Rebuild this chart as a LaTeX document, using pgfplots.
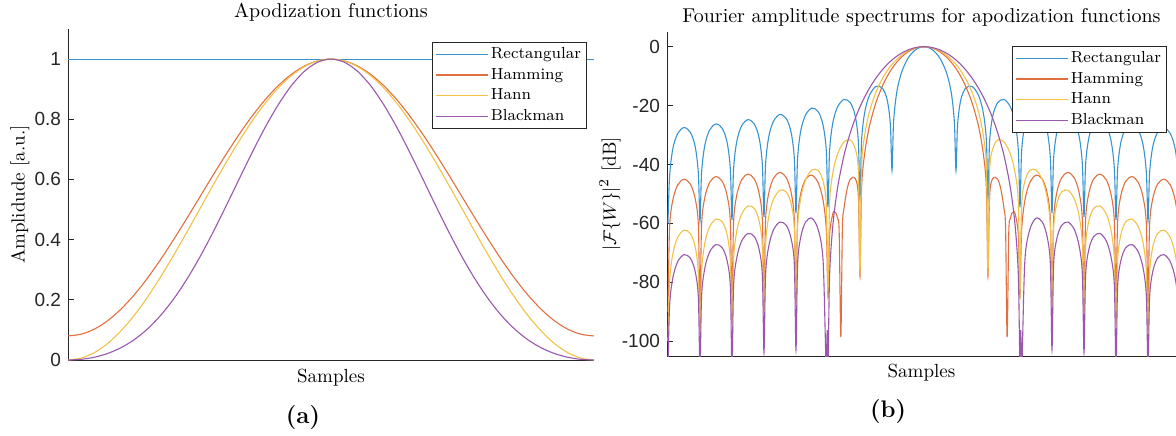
\documentclass[border=0pt]{standalone}
\usepackage{fontspec}
\usepackage{pgfplots}
\pgfplotsset{compat=1.18}
\newfontfamily\ticksf{Liberation Sans}
\definecolor{c1}{rgb}{0.22,0.58,0.82}
\definecolor{c2}{rgb}{0.88,0.44,0.25}
\definecolor{c3}{rgb}{0.95,0.76,0.28}
\definecolor{c4}{rgb}{0.60,0.34,0.68}
\definecolor{axc}{rgb}{0.15,0.15,0.15}
\pgfplotsset{
  base/.style={
    scale only axis,
    axis lines*=left,
    axis line style={-, axc, line width=0.5pt},
    tick style={axc, line width=0.5pt},
    tick align=inside,
    major tick length=3pt,
    xtick=\empty,
    no markers,
    every axis title shift=0pt,
    ticklabel style={font=\ticksf\fontsize{9.5}{11}\selectfont, text=axc},
    label style={font=\fontsize{9.5}{11}\selectfont},
    title style={font=\fontsize{10}{12}\selectfont},
    every axis plot/.append style={line width=0.55pt},
    legend cell align=left,
    legend style={font=\fontsize{8}{9.6}\selectfont, draw=axc, line width=0.5pt, fill=white,
      inner xsep=1.5pt, inner ysep=0.8pt, row sep=0pt,
      nodes={inner xsep=1.3pt, inner ysep=1.25pt, text height=6pt, text depth=1.8pt}},
    legend image code/.code={\draw[#1,line width=0.55pt] (0pt,0pt) -- (26pt,0pt);},
  }
}
\begin{document}
\begin{tikzpicture}
\path[use as bounding box] (0,0) rectangle (588pt,217.5pt);
% ---------------- (a) ----------------
\begin{axis}[base,
  at={(34pt,37.5pt)}, anchor=south west,
  width=263pt, height=165.5pt,
  xmin=0, xmax=40, ymin=0, ymax=1.1,
  ytick={0,0.2,0.4,0.6,0.8,1}, yticklabels={0,0.2,0.4,0.6,0.8,1},
  title={Apodization functions},
  title style={at={(axis description cs:0.5,1)}, anchor=center, yshift=8.5pt},
  xlabel={Samples},
  xlabel style={at={(axis description cs:0.5,0)}, anchor=center, yshift=-9pt},
  ylabel={Amplidude [a.u.]},
  ylabel style={at={(axis description cs:-0.0913,0.5)}, anchor=center},
  legend style={at={(axis description cs:0.9867,0.9607)}, anchor=north east},
]
\addplot[c1] coordinates {(0,1) (40,1)};
\addlegendentry{Rectangular}
\addplot[c2, smooth] coordinates {
(0,0.08) (1,0.0857) (2,0.1025) (3,0.1301) (4,0.1679) (5,0.2147) (6,0.2696) (7,0.3312) (8,0.3979) (9,0.4680)
(10,0.54) (11,0.6120) (12,0.6822) (13,0.7488) (14,0.8104) (15,0.8653) (16,0.9122) (17,0.9499) (18,0.9775) (19,0.9943)
(20,1) (21,0.9943) (22,0.9775) (23,0.9499) (24,0.9122) (25,0.8653) (26,0.8104) (27,0.7488) (28,0.6822) (29,0.6120)
(30,0.54) (31,0.4680) (32,0.3979) (33,0.3312) (34,0.2696) (35,0.2147) (36,0.1679) (37,0.1301) (38,0.1025) (39,0.0857) (40,0.08)};
\addlegendentry{Hamming}
\addplot[c3, smooth] coordinates {
(0,0) (1,0.0062) (2,0.0245) (3,0.0545) (4,0.0955) (5,0.1464) (6,0.2061) (7,0.2730) (8,0.3455) (9,0.4218)
(10,0.5) (11,0.5782) (12,0.6545) (13,0.7270) (14,0.7939) (15,0.8536) (16,0.9045) (17,0.9455) (18,0.9755) (19,0.9938)
(20,1) (21,0.9938) (22,0.9755) (23,0.9455) (24,0.9045) (25,0.8536) (26,0.7939) (27,0.7270) (28,0.6545) (29,0.5782)
(30,0.5) (31,0.4218) (32,0.3455) (33,0.2730) (34,0.2061) (35,0.1464) (36,0.0955) (37,0.0545) (38,0.0245) (39,0.0062) (40,0)};
\addlegendentry{Hann}
\addplot[c4, smooth] coordinates {
(0,0) (1,0.0022) (2,0.0092) (3,0.0215) (4,0.0402) (5,0.0664) (6,0.1014) (7,0.1460) (8,0.2008) (9,0.2657)
(10,0.34) (11,0.4221) (12,0.5098) (13,0.6000) (14,0.6892) (15,0.7736) (16,0.8492) (17,0.9125) (18,0.9603) (19,0.9899)
(20,1) (21,0.9899) (22,0.9603) (23,0.9125) (24,0.8492) (25,0.7736) (26,0.6892) (27,0.6000) (28,0.5098) (29,0.4221)
(30,0.34) (31,0.2657) (32,0.2008) (33,0.1460) (34,0.1014) (35,0.0664) (36,0.0402) (37,0.0215) (38,0.0092) (39,0.0022) (40,0)};
\addlegendentry{Blackman}
\end{axis}
% ---------------- (b) ----------------
\begin{axis}[base,
  at={(333.5pt,39.5pt)}, anchor=south west,
  width=254.5pt, height=162pt,
  xmin=-8.03, xmax=7.875, ymin=-105, ymax=5,
  ytick={-100,-80,-60,-40,-20,0}, yticklabels={-100,-80,-60,-40,-20,0},
  title={Fourier amplitude spectrums for apodization functions},
  title style={at={(axis description cs:0.5,1)}, anchor=center, yshift=7.5pt},
  xlabel={Samples},
  xlabel style={at={(axis description cs:0.5,0)}, anchor=center, yshift=-8.5pt},
  ylabel={$|\mathcal{F}\{W\}|^2$ [dB]},
  ylabel style={at={(axis description cs:-0.112,0.5)}, anchor=center},
  legend style={at={(axis description cs:0.9823,0.9568)}, anchor=north east},
]
\addplot[c1, smooth, tension=0.5] coordinates {
(-8,-60) (-7.95,-44.06) (-7.85,-34.70) (-7.7,-29.51) (-7.5,-27.44) (-7.3,-29.05) (-7.15,-33.89) (-7.05,-43.02)
(-7,-59.3) (-6.95,-42.89) (-6.85,-33.52) (-6.7,-28.30) (-6.5,-26.20) (-6.3,-27.77) (-6.15,-32.58) (-6.05,-41.69)
(-6,-58.8) (-5.95,-41.54) (-5.85,-32.15) (-5.7,-26.90) (-5.5,-24.75) (-5.3,-26.27) (-5.15,-31.04) (-5.05,-40.12)
(-5,-57.8) (-4.95,-39.95) (-4.85,-30.52) (-4.7,-25.23) (-4.5,-23.01) (-4.3,-24.45) (-4.15,-29.16) (-4.05,-38.20)
(-4,-56.5) (-3.95,-37.99) (-3.85,-28.51) (-3.7,-23.15) (-3.5,-20.82) (-3.3,-22.15) (-3.15,-26.77) (-3.05,-35.74)
(-3,-54.5) (-2.95,-35.45) (-2.85,-25.90) (-2.7,-20.41) (-2.5,-17.90) (-2.3,-19.02) (-2.15,-23.45) (-2.05,-32.29)
(-2,-51.5) (-1.95,-31.85) (-1.85,-22.15) (-1.7,-16.39) (-1.5,-13.47) (-1.3,-14.06) (-1.15,-18.02) (-1.05,-26.48)
(-1,-42) (-0.95,-25.61) (-0.85,-15.39) (-0.7,-8.69) (-0.5,-3.92) (-0.3,-1.33) (-0.15,-0.32) (-0.05,-0.04)
(0,0)
(0.05,-0.04) (0.15,-0.32) (0.3,-1.33) (0.5,-3.92) (0.7,-8.69) (0.85,-15.39) (0.95,-25.61) (1,-42)
(1.05,-26.48) (1.15,-18.02) (1.3,-14.06) (1.5,-13.47) (1.7,-16.39) (1.85,-22.15) (1.95,-31.85) (2,-51.5)
(2.05,-32.29) (2.15,-23.45) (2.3,-19.02) (2.5,-17.90) (2.7,-20.41) (2.85,-25.90) (2.95,-35.45) (3,-54.5)
(3.05,-35.74) (3.15,-26.77) (3.3,-22.15) (3.5,-20.82) (3.7,-23.15) (3.85,-28.51) (3.95,-37.99) (4,-56.5)
(4.05,-38.20) (4.15,-29.16) (4.3,-24.45) (4.5,-23.01) (4.7,-25.23) (4.85,-30.52) (4.95,-39.95) (5,-57.8)
(5.05,-40.12) (5.15,-31.04) (5.3,-26.27) (5.5,-24.75) (5.7,-26.90) (5.85,-32.15) (5.95,-41.54) (6,-58.8)
(6.05,-41.69) (6.15,-32.58) (6.3,-27.77) (6.5,-26.20) (6.7,-28.30) (6.85,-33.52) (6.95,-42.89) (7,-59.3)
(7.05,-43.02) (7.15,-33.89) (7.3,-29.05) (7.5,-27.44) (7.7,-29.51) (7.85,-34.70) (7.95,-44.06) (8,-60)};
\addlegendentry{Rectangular}
\addplot[c2, smooth, tension=0.5] coordinates {
(-8,-90) (-7.95,-61.49) (-7.85,-52.15) (-7.7,-46.99) (-7.5,-44.98) (-7.3,-46.65) (-7.15,-51.53) (-7.05,-60.70)
(-7,-89) (-6.95,-60.60) (-6.85,-51.27) (-6.7,-46.11) (-6.5,-44.09) (-6.3,-45.75) (-6.15,-50.64) (-6.05,-59.81)
(-6,-88) (-5.95,-59.71) (-5.85,-50.39) (-5.7,-45.23) (-5.5,-43.24) (-5.3,-44.93) (-5.15,-49.85) (-5.05,-59.03)
(-5,-87) (-4.95,-58.97) (-4.85,-49.66) (-4.7,-44.58) (-4.5,-42.68) (-4.3,-44.50) (-4.15,-49.55) (-4.05,-58.84)
(-4,-86) (-3.95,-58.93) (-3.85,-49.77) (-3.7,-44.98) (-3.5,-43.62) (-3.3,-46.30) (-3.15,-52.34) (-3.05,-62.57)
(-3,-85) (-2.95,-63.95) (-2.85,-56.79) (-2.8,-56.05) (-2.75,-56.47) (-2.7,-58.32) (-2.65,-62.89) (-2.598,-98.6)
(-2.55,-61.71) (-2.5,-54.91) (-2.4,-48.21) (-2.3,-44.97) (-2.15,-44.66) (-2.05,-50.86)
(-2,-78) (-1.95,-48.00) (-1.85,-35.98) (-1.7,-26.77) (-1.5,-18.93) (-1.3,-13.34) (-1.15,-10.08) (-1.05,-8.24)
(-1,-7.41) (-0.95,-6.64) (-0.85,-5.24) (-0.7,-3.49) (-0.5,-1.75) (-0.3,-0.62) (-0.15,-0.16) (-0.05,-0.02)
(0,0)
(0.05,-0.02) (0.15,-0.16) (0.3,-0.62) (0.5,-1.75) (0.7,-3.49) (0.85,-5.24) (0.95,-6.64) (1,-7.41)
(1.05,-8.24) (1.15,-10.08) (1.3,-13.34) (1.5,-18.93) (1.7,-26.77) (1.85,-35.98) (1.95,-48.00) (2,-78)
(2.05,-50.86) (2.15,-44.66) (2.3,-44.97) (2.4,-48.21) (2.5,-54.91) (2.55,-61.71) (2.598,-98.6)
(2.65,-62.89) (2.7,-58.32) (2.75,-56.47) (2.8,-56.05) (2.85,-56.79) (2.95,-63.95) (3,-85)
(3.05,-62.57) (3.15,-52.34) (3.3,-46.30) (3.5,-43.62) (3.7,-44.98) (3.85,-49.77) (3.95,-58.93) (4,-86)
(4.05,-58.84) (4.15,-49.55) (4.3,-44.50) (4.5,-42.68) (4.7,-44.58) (4.85,-49.66) (4.95,-58.97) (5,-87)
(5.05,-59.03) (5.15,-49.85) (5.3,-44.93) (5.5,-43.24) (5.7,-45.23) (5.85,-50.39) (5.95,-59.71) (6,-88)
(6.05,-59.81) (6.15,-50.64) (6.3,-45.75) (6.5,-44.09) (6.7,-46.11) (6.85,-51.27) (6.95,-60.60) (7,-89)
(7.05,-60.70) (7.15,-51.53) (7.3,-46.65) (7.5,-44.98) (7.7,-46.99) (7.85,-52.15) (7.95,-61.49) (8,-90)};
\addlegendentry{Hamming}
\addplot[c3, smooth, tension=0.5] coordinates {
(-8,-100) (-7.95,-79.94) (-7.85,-70.35) (-7.7,-64.82) (-7.5,-62.29) (-7.3,-63.42) (-7.15,-67.89) (-7.05,-76.77)
(-7,-97) (-6.95,-76.39) (-6.85,-66.76) (-6.7,-61.15) (-6.5,-58.51) (-6.3,-59.52) (-6.15,-63.90) (-6.05,-72.72)
(-6,-94) (-5.95,-72.27) (-5.85,-62.58) (-5.7,-56.86) (-5.5,-54.07) (-5.3,-54.93) (-5.15,-59.18) (-5.05,-67.90)
(-5,-91) (-4.95,-67.37) (-4.85,-57.57) (-4.7,-51.71) (-4.5,-48.70) (-4.3,-49.31) (-4.15,-53.36) (-4.05,-61.95)
(-4,-88) (-3.95,-61.28) (-3.85,-51.32) (-3.7,-45.22) (-3.5,-41.84) (-3.3,-42.05) (-3.15,-45.78) (-3.05,-54.12)
(-3,-84) (-2.95,-53.18) (-2.85,-42.95) (-2.7,-36.38) (-2.5,-32.30) (-2.3,-31.67) (-2.15,-34.63) (-2.05,-42.40)
(-2,-77) (-1.95,-40.80) (-1.85,-29.84) (-1.7,-21.92) (-1.5,-15.41) (-1.3,-10.84) (-1.15,-8.19) (-1.05,-6.69)
(-1,-6.02) (-0.95,-5.39) (-0.85,-4.26) (-0.7,-2.84) (-0.5,-1.42) (-0.3,-0.51) (-0.15,-0.13) (-0.05,-0.01)
(0,0)
(0.05,-0.01) (0.15,-0.13) (0.3,-0.51) (0.5,-1.42) (0.7,-2.84) (0.85,-4.26) (0.95,-5.39) (1,-6.02)
(1.05,-6.69) (1.15,-8.19) (1.3,-10.84) (1.5,-15.41) (1.7,-21.92) (1.85,-29.84) (1.95,-40.80) (2,-77)
(2.05,-42.40) (2.15,-34.63) (2.3,-31.67) (2.5,-32.30) (2.7,-36.38) (2.85,-42.95) (2.95,-53.18) (3,-84)
(3.05,-54.12) (3.15,-45.78) (3.3,-42.05) (3.5,-41.84) (3.7,-45.22) (3.85,-51.32) (3.95,-61.28) (4,-88)
(4.05,-61.95) (4.15,-53.36) (4.3,-49.31) (4.5,-48.70) (4.7,-51.71) (4.85,-57.57) (4.95,-67.37) (5,-91)
(5.05,-67.90) (5.15,-59.18) (5.3,-54.93) (5.5,-54.07) (5.7,-56.86) (5.85,-62.58) (5.95,-72.27) (6,-94)
(6.05,-72.72) (6.15,-63.90) (6.3,-59.52) (6.5,-58.51) (6.7,-61.15) (6.85,-66.76) (6.95,-76.39) (7,-97)
(7.05,-76.77) (7.15,-67.89) (7.3,-63.42) (7.5,-62.29) (7.7,-64.82) (7.85,-70.35) (7.95,-79.94) (8,-100)};
\addlegendentry{Hann}
\addplot[c4, smooth, tension=0.5] coordinates {
(-8,-110) (-7.95,-88.12) (-7.85,-78.55) (-7.7,-73.06) (-7.5,-70.59) (-7.3,-71.77) (-7.15,-76.29) (-7.05,-85.21)
(-7,-110) (-6.95,-84.86) (-6.85,-75.27) (-6.7,-69.72) (-6.5,-67.17) (-6.3,-68.29) (-6.15,-72.75) (-6.05,-81.63)
(-6,-110) (-5.95,-81.25) (-5.85,-71.63) (-5.7,-66.02) (-5.5,-63.40) (-5.3,-64.46) (-5.15,-68.89) (-5.05,-77.74)
(-5,-104) (-4.95,-77.35) (-4.85,-67.70) (-4.7,-62.10) (-4.5,-59.52) (-4.3,-60.66) (-4.15,-65.21) (-4.05,-74.19)
(-4,-103) (-3.95,-73.99) (-3.85,-64.58) (-3.7,-59.52) (-3.5,-58.23) (-3.3,-62.33) (-3.15,-73.19) (-3.055,-110)
(-3.025,-96.25) (-3,-110) (-2.95,-77.99) (-2.85,-60.95) (-2.7,-47.88) (-2.5,-36.92) (-2.3,-29.11) (-2.15,-24.41)
(-2.05,-21.68) (-2,-20.42) (-1.95,-19.22) (-1.85,-17.00) (-1.7,-14.00) (-1.5,-10.63) (-1.3,-7.81) (-1.15,-6.03)
(-1.05,-4.98) (-1,-4.51) (-0.95,-4.05) (-0.85,-3.23) (-0.7,-2.17) (-0.5,-1.10) (-0.3,-0.39) (-0.15,-0.10) (-0.05,-0.01)
(0,0)
(0.05,-0.01) (0.15,-0.10) (0.3,-0.39) (0.5,-1.10) (0.7,-2.17) (0.85,-3.23) (0.95,-4.05) (1,-4.51)
(1.05,-4.98) (1.15,-6.03) (1.3,-7.81) (1.5,-10.63) (1.7,-14.00) (1.85,-17.00) (1.95,-19.22) (2,-20.42)
(2.05,-21.68) (2.15,-24.41) (2.3,-29.11) (2.5,-36.92) (2.7,-47.88) (2.85,-60.95) (2.95,-77.99) (3,-110)
(3.025,-96.25) (3.055,-110) (3.15,-73.19) (3.3,-62.33) (3.5,-58.23) (3.7,-59.52) (3.85,-64.58) (3.95,-73.99) (4,-103)
(4.05,-74.19) (4.15,-65.21) (4.3,-60.66) (4.5,-59.52) (4.7,-62.10) (4.85,-67.70) (4.95,-77.35) (5,-104)
(5.05,-77.74) (5.15,-68.89) (5.3,-64.46) (5.5,-63.40) (5.7,-66.02) (5.85,-71.63) (5.95,-81.25) (6,-110)
(6.05,-81.63) (6.15,-72.75) (6.3,-68.29) (6.5,-67.17) (6.7,-69.72) (6.85,-75.27) (6.95,-84.86) (7,-110)
(7.05,-85.21) (7.15,-76.29) (7.3,-71.77) (7.5,-70.59) (7.7,-73.06) (7.85,-78.55) (7.95,-88.12) (8,-110)};
\addlegendentry{Blackman}
\end{axis}
\node[font=\bfseries\fontsize{12}{14}\selectfont] at (151.5pt,8.5pt) {(a)};
\node[font=\bfseries\fontsize{12}{14}\selectfont] at (444pt,11.5pt) {(b)};
\end{tikzpicture}
\end{document}
